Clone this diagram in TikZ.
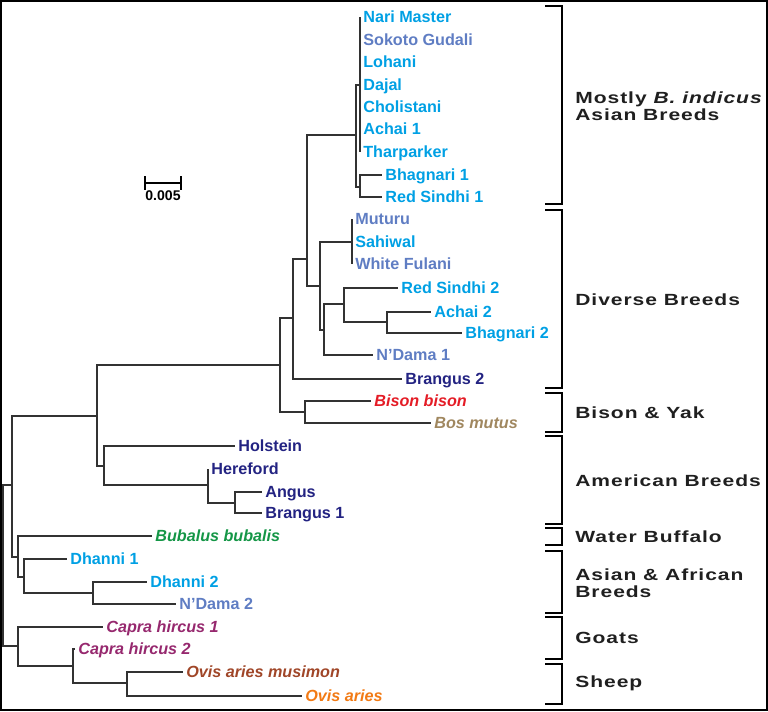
\documentclass[tikz,border=0pt]{standalone}
\usepackage{fontspec}
\setmainfont{Liberation Sans}
\newfontfamily\groupfont[FakeStretch=1.3,LetterSpace=6]{Liberation Sans}

\definecolor{treegray}{RGB}{50,50,50}
\definecolor{indicus}{RGB}{0,160,228}
\definecolor{slate}{RGB}{95,125,195}
\definecolor{navy}{RGB}{35,35,130}
\definecolor{bisonred}{RGB}{228,28,38}
\definecolor{yak}{RGB}{160,135,95}
\definecolor{buffalo}{RGB}{20,150,70}
\definecolor{goat}{RGB}{150,40,110}
\definecolor{mouflon}{RGB}{160,70,40}
\definecolor{sheep}{RGB}{242,122,20}

\tikzset{
  branch/.style={draw=treegray, line width=0.75pt},
  leaf/.style={anchor=west, inner xsep=0.06cm, inner ysep=0pt,
    text height=6.6pt, text depth=0pt,
    font=\fontsize{9.2}{11}\selectfont\bfseries},
  latin/.style={leaf, font=\fontsize{9.2}{11}\selectfont\bfseries\itshape},
  group/.style={anchor=west, align=left, inner sep=0pt, text=black!88,
    font=\groupfont\fontsize{9.2}{9.4}\selectfont\bfseries},
  brace/.style={line width=1.1pt},
}

\begin{document}
\begin{tikzpicture}[x=0.02cm, y=-0.02cm]
\useasboundingbox (0,0) rectangle (768,711);
\draw[line width=1pt] (1,1) rectangle (767,710);

% inner nodes of the tree
\coordinate (root) at (3,565);
\coordinate (n12) at (12,485);
\coordinate (n97) at (97,416);
\coordinate (n280) at (280,365);
\coordinate (n293) at (293,318);
\coordinate (n307) at (307,259);
\coordinate (n356) at (356,135);
\coordinate (indic) at (360,85);
\coordinate (bhag) at (360,187);
\coordinate (n320) at (320,286);
\coordinate (afr) at (352,242);
\coordinate (n324) at (324,330);
\coordinate (n344) at (344,304);
\coordinate (n387) at (387,322);
\coordinate (bisyak) at (305,412);
\coordinate (amer) at (104,466);
\coordinate (n208) at (208,485);
\coordinate (n235) at (235,503);
\coordinate (n18) at (18,557);
\coordinate (n24) at (24,577);
\coordinate (n93) at (93,593);
\coordinate (capra) at (18,646);
\coordinate (n73) at (73,666);
\coordinate (ovis) at (127,683);

% leaves
\node[leaf, text=indicus] (nari) at (360,17) {Nari Master};
\node[leaf, text=slate] (sokoto) at (360,40) {Sokoto Gudali};
\node[leaf, text=indicus] (lohani) at (360,62) {Lohani};
\node[leaf, text=indicus] (dajal) at (360,85) {Dajal};
\node[leaf, text=indicus] (cholistani) at (360,107) {Cholistani};
\node[leaf, text=indicus] (achaiA) at (360,129) {Achai 1};
\node[leaf, text=indicus] (tharparker) at (360,152) {Tharparker};
\node[leaf, text=indicus] (bhagA) at (382,175) {Bhagnari 1};
\node[leaf, text=indicus] (sindhiA) at (382,197) {Red Sindhi 1};
\node[leaf, text=slate] (muturu) at (352,219) {Muturu};
\node[leaf, text=indicus] (sahiwal) at (352,242) {Sahiwal};
\node[leaf, text=slate] (fulani) at (352,264) {White Fulani};
\node[leaf, text=indicus] (sindhiB) at (398,288) {Red Sindhi 2};
\node[leaf, text=indicus] (achaiB) at (431,312) {Achai 2};
\node[leaf, text=indicus] (bhagB) at (462,333) {Bhagnari 2};
\node[leaf, text=slate] (ndamaA) at (373,355) {N’Dama 1};
\node[leaf, text=navy] (brangusB) at (402,379) {Brangus 2};
\node[latin, text=bisonred] (bison) at (371,401) {Bison bison};
\node[latin, text=yak] (bosmutus) at (431,423) {Bos mutus};
\node[leaf, text=navy] (holstein) at (235,446) {Holstein};
\node[leaf, text=navy] (hereford) at (208,469) {Hereford};
\node[leaf, text=navy] (angus) at (262,492) {Angus};
\node[leaf, text=navy] (brangusA) at (262,513) {Brangus 1};
\node[latin, text=buffalo] (bubalus) at (152,536) {Bubalus bubalis};
\node[leaf, text=indicus] (dhanniA) at (67,559) {Dhanni 1};
\node[leaf, text=indicus] (dhanniB) at (147,582) {Dhanni 2};
\node[leaf, text=slate] (ndamaB) at (176,604) {N’Dama 2};
\node[latin, text=goat] (hircusA) at (103,627) {Capra hircus 1};
\node[latin, text=goat] (hircusB) at (75,649) {Capra hircus 2};
\node[latin, text=mouflon] (musimon) at (183,672) {Ovis aries musimon};
\node[latin, text=sheep] (aries) at (302,696) {Ovis aries};

% branches
\draw[branch] (root) |- (n12)  (root) |- (capra);
\draw[branch] (n12) |- (n97)  (n12) |- (n18);
\draw[branch] (n97) |- (n280)  (n97) |- (amer);
\draw[branch] (n280) |- (n293)  (n280) |- (bisyak);
\draw[branch] (n293) |- (n307)  (n293) |- (brangusB.west);
\draw[branch] (n307) |- (n356)  (n307) |- (n320);
\draw[branch] (n356) |- (indic)  (n356) |- (bhag);
\foreach \leafname in {nari, sokoto, lohani, dajal, cholistani, achaiA, tharparker}
  \draw[branch] (indic) |- (\leafname.west);
\draw[branch] (bhag) |- (bhagA.west)  (bhag) |- (sindhiA.west);
\draw[branch] (n320) |- (afr)  (n320) |- (n324);
\foreach \leafname in {muturu, sahiwal, fulani}
  \draw[branch] (afr) |- (\leafname.west);
\draw[branch] (n324) |- (n344)  (n324) |- (ndamaA.west);
\draw[branch] (n344) |- (sindhiB.west)  (n344) |- (n387);
\draw[branch] (n387) |- (achaiB.west)  (n387) |- (bhagB.west);
\draw[branch] (bisyak) |- (bison.west)  (bisyak) |- (bosmutus.west);
\draw[branch] (amer) |- (holstein.west)  (amer) |- (n208);
\draw[branch] (n208) |- (hereford.west)  (n208) |- (n235);
\draw[branch] (n235) |- (angus.west)  (n235) |- (brangusA.west);
\draw[branch] (n18) |- (bubalus.west)  (n18) |- (n24);
\draw[branch] (n24) |- (dhanniA.west)  (n24) |- (n93);
\draw[branch] (n93) |- (dhanniB.west)  (n93) |- (ndamaB.west);
\draw[branch] (capra) |- (hircusA.west)  (capra) |- (n73);
\draw[branch] (n73) |- (hircusB.west)  (n73) |- (ovis);
\draw[branch] (ovis) |- (musimon.west)  (ovis) |- (aries.west);

% scale bar
\coordinate (barL) at (144,183);
\coordinate (barR) at (182,183);
\draw[line width=1pt, |-|] (barL) -- (barR);
\node[font=\fontsize{8}{9}\selectfont\bfseries, inner sep=0pt] (barlab) at (163,196) {0.005};

% group brackets
\foreach \ya/\yb in {6/204, 210/388, 393/432, 436/524, 528/545, 551/613, 617/659, 664/704}
  \draw[brace] (545,\ya) -| (562,\yb) -- (545,\yb);

\node[group] (gindicus) at (575,106) {Mostly \textit{B. indicus}\\Asian Breeds};
\node[group] (gdiverse) at (575,300) {Diverse Breeds};
\node[group] (gbison) at (575,413) {Bison \& Yak};
\node[group] (gamerican) at (575,481) {American Breeds};
\node[group] (gbuffalo) at (575,537) {Water Buffalo};
\node[group] (gafrican) at (575,583) {Asian \& African\\Breeds};
\node[group] (ggoats) at (575,638) {Goats};
\node[group] (gsheep) at (575,683) {Sheep};

\end{tikzpicture}
\end{document}
